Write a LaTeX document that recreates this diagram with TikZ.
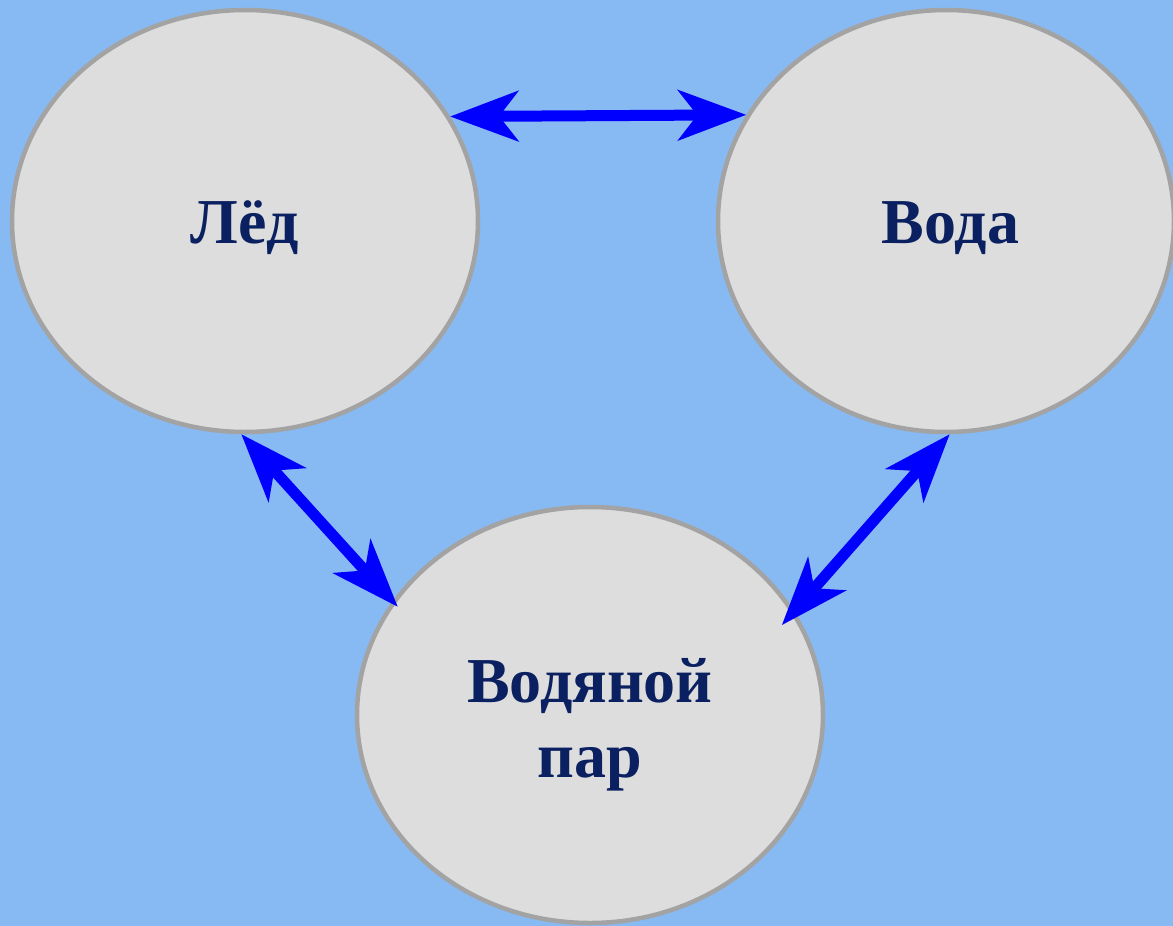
\documentclass[tikz,border=0pt]{standalone}
\usepackage{fontspec}
\setmainfont{Liberation Serif}
\usetikzlibrary{shapes.geometric,arrows.meta}
\definecolor{bgblue}{RGB}{135,185,242}
\definecolor{ellfill}{RGB}{221,221,221}
\definecolor{ellborder}{RGB}{163,163,163}
\definecolor{txtnavy}{RGB}{10,32,96}
\definecolor{arrblue}{RGB}{0,0,255}
\tikzset{
  phase/.style={ellipse, draw=ellborder, fill=ellfill, line width=4.5pt, inner sep=0pt,
    font=\fontsize{64}{75}\selectfont\bfseries, text=txtnavy},
  trans/.style={draw=arrblue, line width=11pt,
    {Stealth[length=68pt,width=50pt,inset=19pt]}-{Stealth[length=68pt,width=50pt,inset=19pt]}}
}
\begin{document}
\begin{tikzpicture}[x=1pt,y=-1pt]
\fill[bgblue] (0,0) rectangle (1173,926);
\useasboundingbox (0,0) rectangle (1173,926);
\node[phase, minimum width=466pt, minimum height=422pt] (led) at (245,221)
  {\raisebox{0pt}[44pt][0pt]{Лёд}};
\node[phase, minimum width=456pt, minimum height=422pt] (voda) at (946,221)
  {\raisebox{0pt}[44pt][0pt]{\hspace{9pt}Вода}};
\node[phase, minimum width=466pt, minimum height=416pt] (par) at (590,715)
  {\raisebox{0pt}[44pt][70pt]{\begin{tabular}[t]{@{}c@{}}Водяной\\пар\end{tabular}}};
\draw[trans] (led.27) -- (voda.152);
\draw[trans, shorten >=-8pt] (led.-91) -- (par.150);
\draw[trans, shorten >=-19pt] (voda.-89) -- (par.27.6);
\end{tikzpicture}
\end{document}
